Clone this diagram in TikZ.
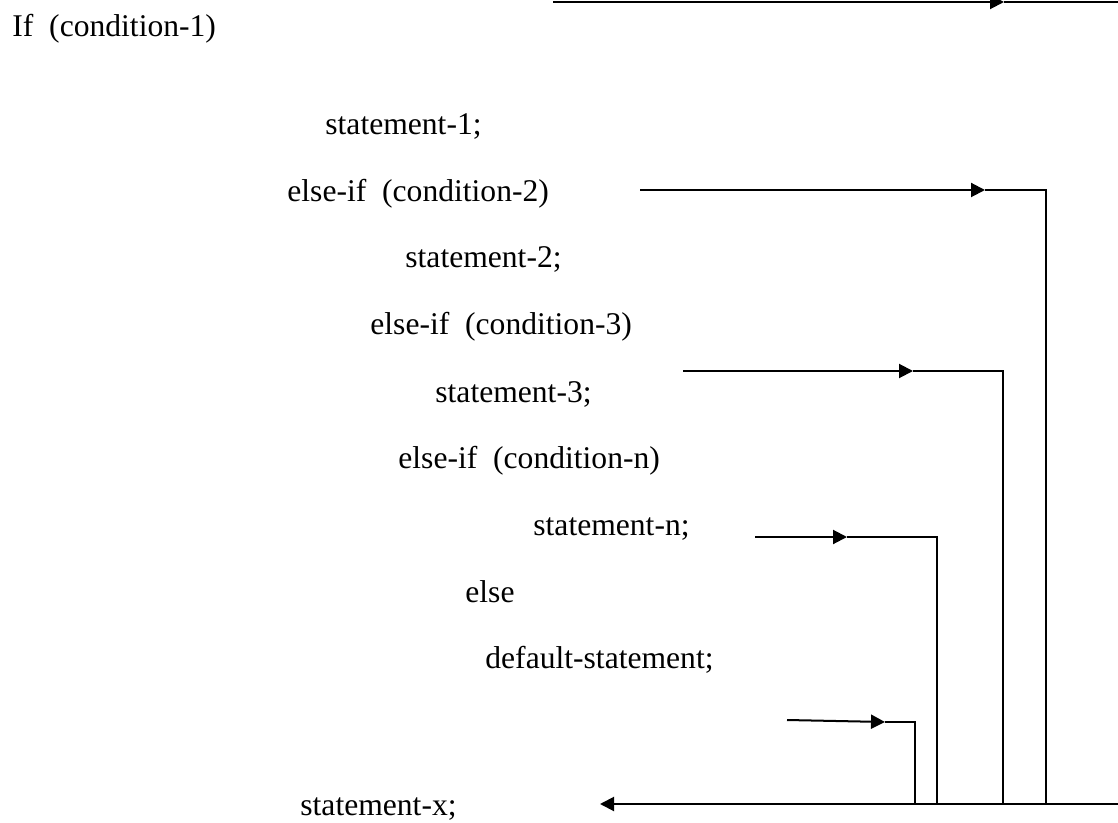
\documentclass[tikz,border=0pt]{standalone}
\usepackage{fontspec}
\setmainfont{Liberation Serif}
\usetikzlibrary{arrows.meta}
\begin{document}
\begin{tikzpicture}[x=0.5pt,y=-0.5pt,
  code/.style={anchor=base west,inner sep=0pt,font=\fontsize{15.8}{19}\selectfont},
  wire/.style={line width=1pt,line join=miter},
  flow/.style={wire,-{Triangle[length=7pt,width=7pt]}}]
\useasboundingbox (0,0) rectangle (1118,823);
\clip (0,0) rectangle (1118,823);

% program text
\node[code] (c1) at (12,37)  {If\ \ (condition-1)};
\node[code] (s1) at (325,135) {statement-1;};
\node[code] (c2) at (287,202) {else-if\ \ (condition-2)};
\node[code] (s2) at (405,268) {statement-2;};
\node[code] (c3) at (370,335) {else-if\ \ (condition-3)};
\node[code] (s3) at (435,402) {statement-3;};
\node[code] (cn) at (398,468) {else-if\ \ (condition-n)};
\node[code] (sn) at (533,535) {statement-n;};
\node[code] (el) at (465,602) {else};
\node[code] (sd) at (485,668) {default-statement;};
\node[code] (sx) at (300,815) {statement-x;};

% branch exits
\coordinate (a0) at (553,2);   \coordinate (t0) at (1004,2);  \coordinate (k0) at (1118,2);
\coordinate (a1) at (640,190); \coordinate (t1) at (985,190); \coordinate (k1) at (1046,190);
\coordinate (a2) at (683,371); \coordinate (t2) at (913,371); \coordinate (k2) at (1003,371);
\coordinate (a3) at (755,537); \coordinate (t3) at (847,537); \coordinate (k3) at (937,537);
\coordinate (a4) at (787,720); \coordinate (t4) at (885,722); \coordinate (k4) at (915,722);

% join line
\coordinate (jr) at (1118,804);
\coordinate (jl) at (600,804);
\coordinate (b1) at (1046,804);
\coordinate (b2) at (1003,804);
\coordinate (b3) at (937,804);
\coordinate (b4) at (915,804);

\draw[flow] (a0) -- (t0);  \draw[wire] (t0) -- (k0);
\draw[flow] (a1) -- (t1);  \draw[wire] (t1) -- (k1) -- (b1);
\draw[flow] (a2) -- (t2);  \draw[wire] (t2) -- (k2) -- (b2);
\draw[flow] (a3) -- (t3);  \draw[wire] (t3) -- (k3) -- (b3);
\draw[flow] (a4) -- (t4);  \draw[wire] (t4) -- (k4) -- (b4);
\draw[flow] (jr) -- (jl);
\end{tikzpicture}
\end{document}
